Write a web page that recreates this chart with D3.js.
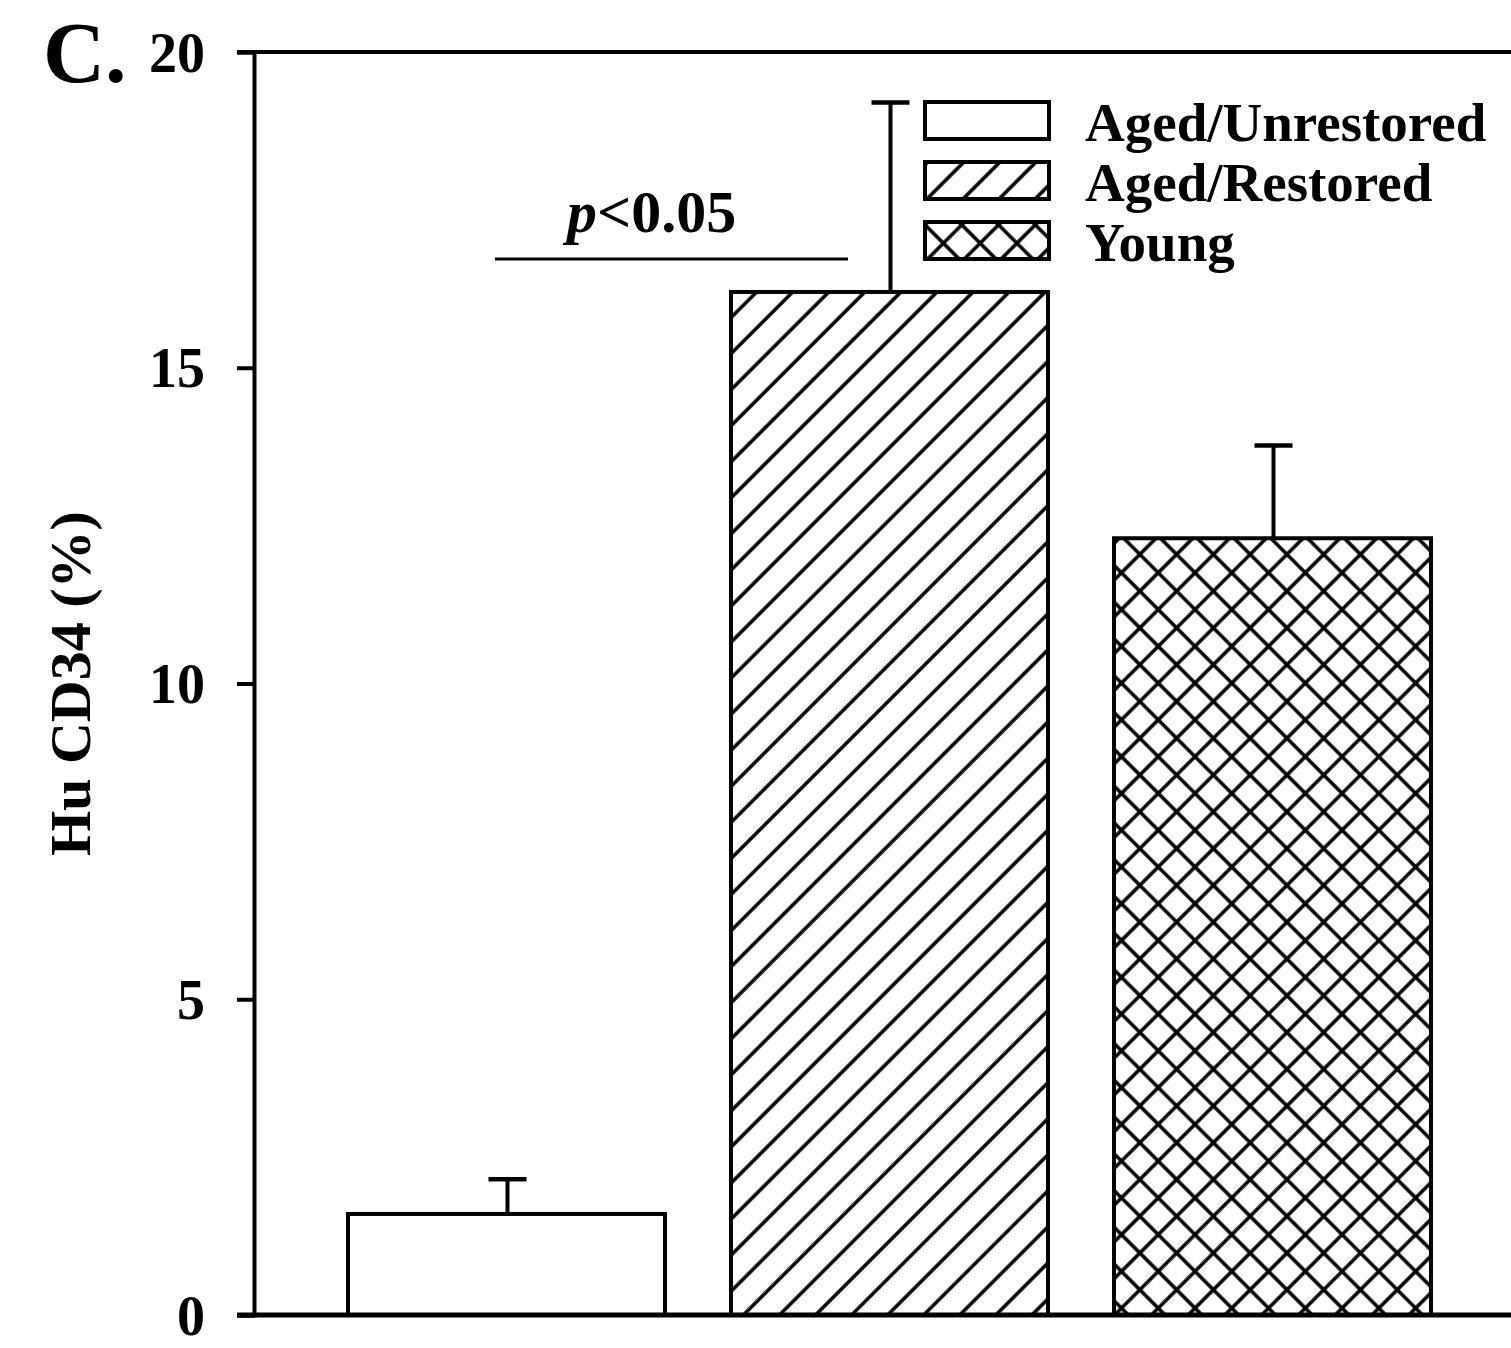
<!DOCTYPE html>
<html>
<head>
<meta charset="utf-8">
<script src="https://cdn.jsdelivr.net/npm/d3@7"></script>
<style>
  body { margin: 0; background: #fff; }
  svg { display: block; }
  text { font-family: "Liberation Serif", "Times New Roman", serif; font-weight: bold; fill: #000; }
</style>
</head>
<body>
<div id="chart"></div>
<script>
// Data
const groups = ["Aged/Unrestored", "Aged/Restored", "Young"]
const means = [1.6, 16.2, 12.3]
const errors = [0.55, 3.0, 1.47]
const fills = ["none", "url(#hatch)", "url(#cross)"]
const yTicks = [0, 5, 10, 15, 20]

const width = 1511, height = 1348
const axisX = 254, yTop = 52, yBottom = 1315

const svg = d3.select("#chart").append("svg")
    .attr("width", width)
    .attr("height", height)

// hatch patterns
const defs = svg.append("defs")
const hatch = defs.append("pattern")
    .attr("id", "hatch")
    .attr("patternUnits", "userSpaceOnUse")
    .attr("width", 25.5).attr("height", 25.5)
    .attr("patternTransform", "rotate(45)")
hatch.append("rect").attr("width", 25.5).attr("height", 25.5).attr("fill", "#fff")
hatch.append("line").attr("x1", 2).attr("y1", 0).attr("x2", 2).attr("y2", 25.5)
    .attr("stroke", "#000").attr("stroke-width", 3.5)

const cross = defs.append("pattern")
    .attr("id", "cross")
    .attr("patternUnits", "userSpaceOnUse")
    .attr("width", 26).attr("height", 26)
    .attr("patternTransform", "rotate(45)")
cross.append("rect").attr("width", 26).attr("height", 26).attr("fill", "#fff")
cross.append("line").attr("x1", 2).attr("y1", 0).attr("x2", 2).attr("y2", 26)
    .attr("stroke", "#000").attr("stroke-width", 3.5)
cross.append("line").attr("x1", 0).attr("y1", 2).attr("x2", 26).attr("y2", 2)
    .attr("stroke", "#000").attr("stroke-width", 3.5)

// scales
const x = d3.scaleBand()
    .domain(groups)
    .range([axisX, 1525])
    .paddingInner(0.1723)
    .paddingOuter(0.2454)

const y = d3.scaleLinear()
    .domain([0, 20])
    .range([yBottom, yTop])

// bars
svg.selectAll(".bar")
    .data(groups)
    .join("rect")
    .attr("class", "bar")
    .attr("x", d => x(d))
    .attr("y", (d, i) => y(means[i]))
    .attr("width", x.bandwidth())
    .attr("height", (d, i) => y(0) - y(means[i]))
    .attr("fill", (d, i) => fills[i] === "none" ? "#fff" : fills[i])
    .attr("stroke", "#000")
    .attr("stroke-width", 4)

// error bars (upper only)
const capW = 38
svg.selectAll(".err")
    .data(groups)
    .join("line")
    .attr("class", "err")
    .attr("x1", d => x(d) + x.bandwidth() / 2 + 1)
    .attr("x2", d => x(d) + x.bandwidth() / 2 + 1)
    .attr("y1", (d, i) => y(means[i]))
    .attr("y2", (d, i) => y(means[i] + errors[i]))
    .attr("stroke", "#000").attr("stroke-width", 4)

svg.selectAll(".cap")
    .data(groups)
    .join("line")
    .attr("class", "cap")
    .attr("x1", d => x(d) + x.bandwidth() / 2 + 1 - capW / 2)
    .attr("x2", d => x(d) + x.bandwidth() / 2 + 1 + capW / 2)
    .attr("y1", (d, i) => y(means[i] + errors[i]))
    .attr("y2", (d, i) => y(means[i] + errors[i]))
    .attr("stroke", "#000").attr("stroke-width", 4.5)

// y axis
const yAxis = svg.append("g")
    .attr("transform", `translate(${axisX},0)`)
    .call(d3.axisLeft(y).tickValues(yTicks).tickSize(17).tickPadding(32))
yAxis.select(".domain").attr("stroke-width", 4)
yAxis.selectAll(".tick line").attr("stroke-width", 4)
yAxis.selectAll(".tick text")
    .style("font-size", "56px")
    .style("font-family", "'Liberation Serif', serif")
    .style("font-weight", "bold")
    .attr("dy", "0.34em")

// top frame line and bottom baseline
svg.append("line")
    .attr("x1", axisX - 17).attr("x2", width)
    .attr("y1", y(20)).attr("y2", y(20))
    .attr("stroke", "#000").attr("stroke-width", 4)
svg.append("line")
    .attr("x1", axisX - 17).attr("x2", width)
    .attr("y1", y(0)).attr("y2", y(0))
    .attr("stroke", "#000").attr("stroke-width", 5)

// y title
svg.append("text")
    .attr("transform", `translate(90,${(yTop + yBottom) / 2}) rotate(-90)`)
    .attr("text-anchor", "middle")
    .style("font-size", "58px")
    .text("Hu CD34 (%)")

// panel letter
svg.append("text")
    .attr("x", 43).attr("y", 82)
    .style("font-size", "86px")
    .text("C.")

// significance bracket
svg.append("line")
    .attr("x1", 495).attr("x2", 848)
    .attr("y1", 259).attr("y2", 259)
    .attr("stroke", "#000").attr("stroke-width", 3)
const pText = svg.append("text")
    .attr("x", 567).attr("y", 232)
    .style("font-size", "60px")
pText.append("tspan").style("font-style", "italic").text("p")
pText.append("tspan").text("<0.05")

// legend
const legendY = [102, 162, 222]
const legend = svg.selectAll(".legend")
    .data(groups)
    .join("g")
    .attr("class", "legend")
    .attr("transform", (d, i) => `translate(925,${legendY[i]})`)
legend.append("rect")
    .attr("width", 124).attr("height", 37)
    .attr("fill", (d, i) => fills[i] === "none" ? "#fff" : fills[i])
    .attr("stroke", "#000").attr("stroke-width", 4)
legend.append("text")
    .attr("x", 160).attr("y", 39)
    .style("font-size", "55px")
    .text(d => d)
</script>
</body>
</html>
